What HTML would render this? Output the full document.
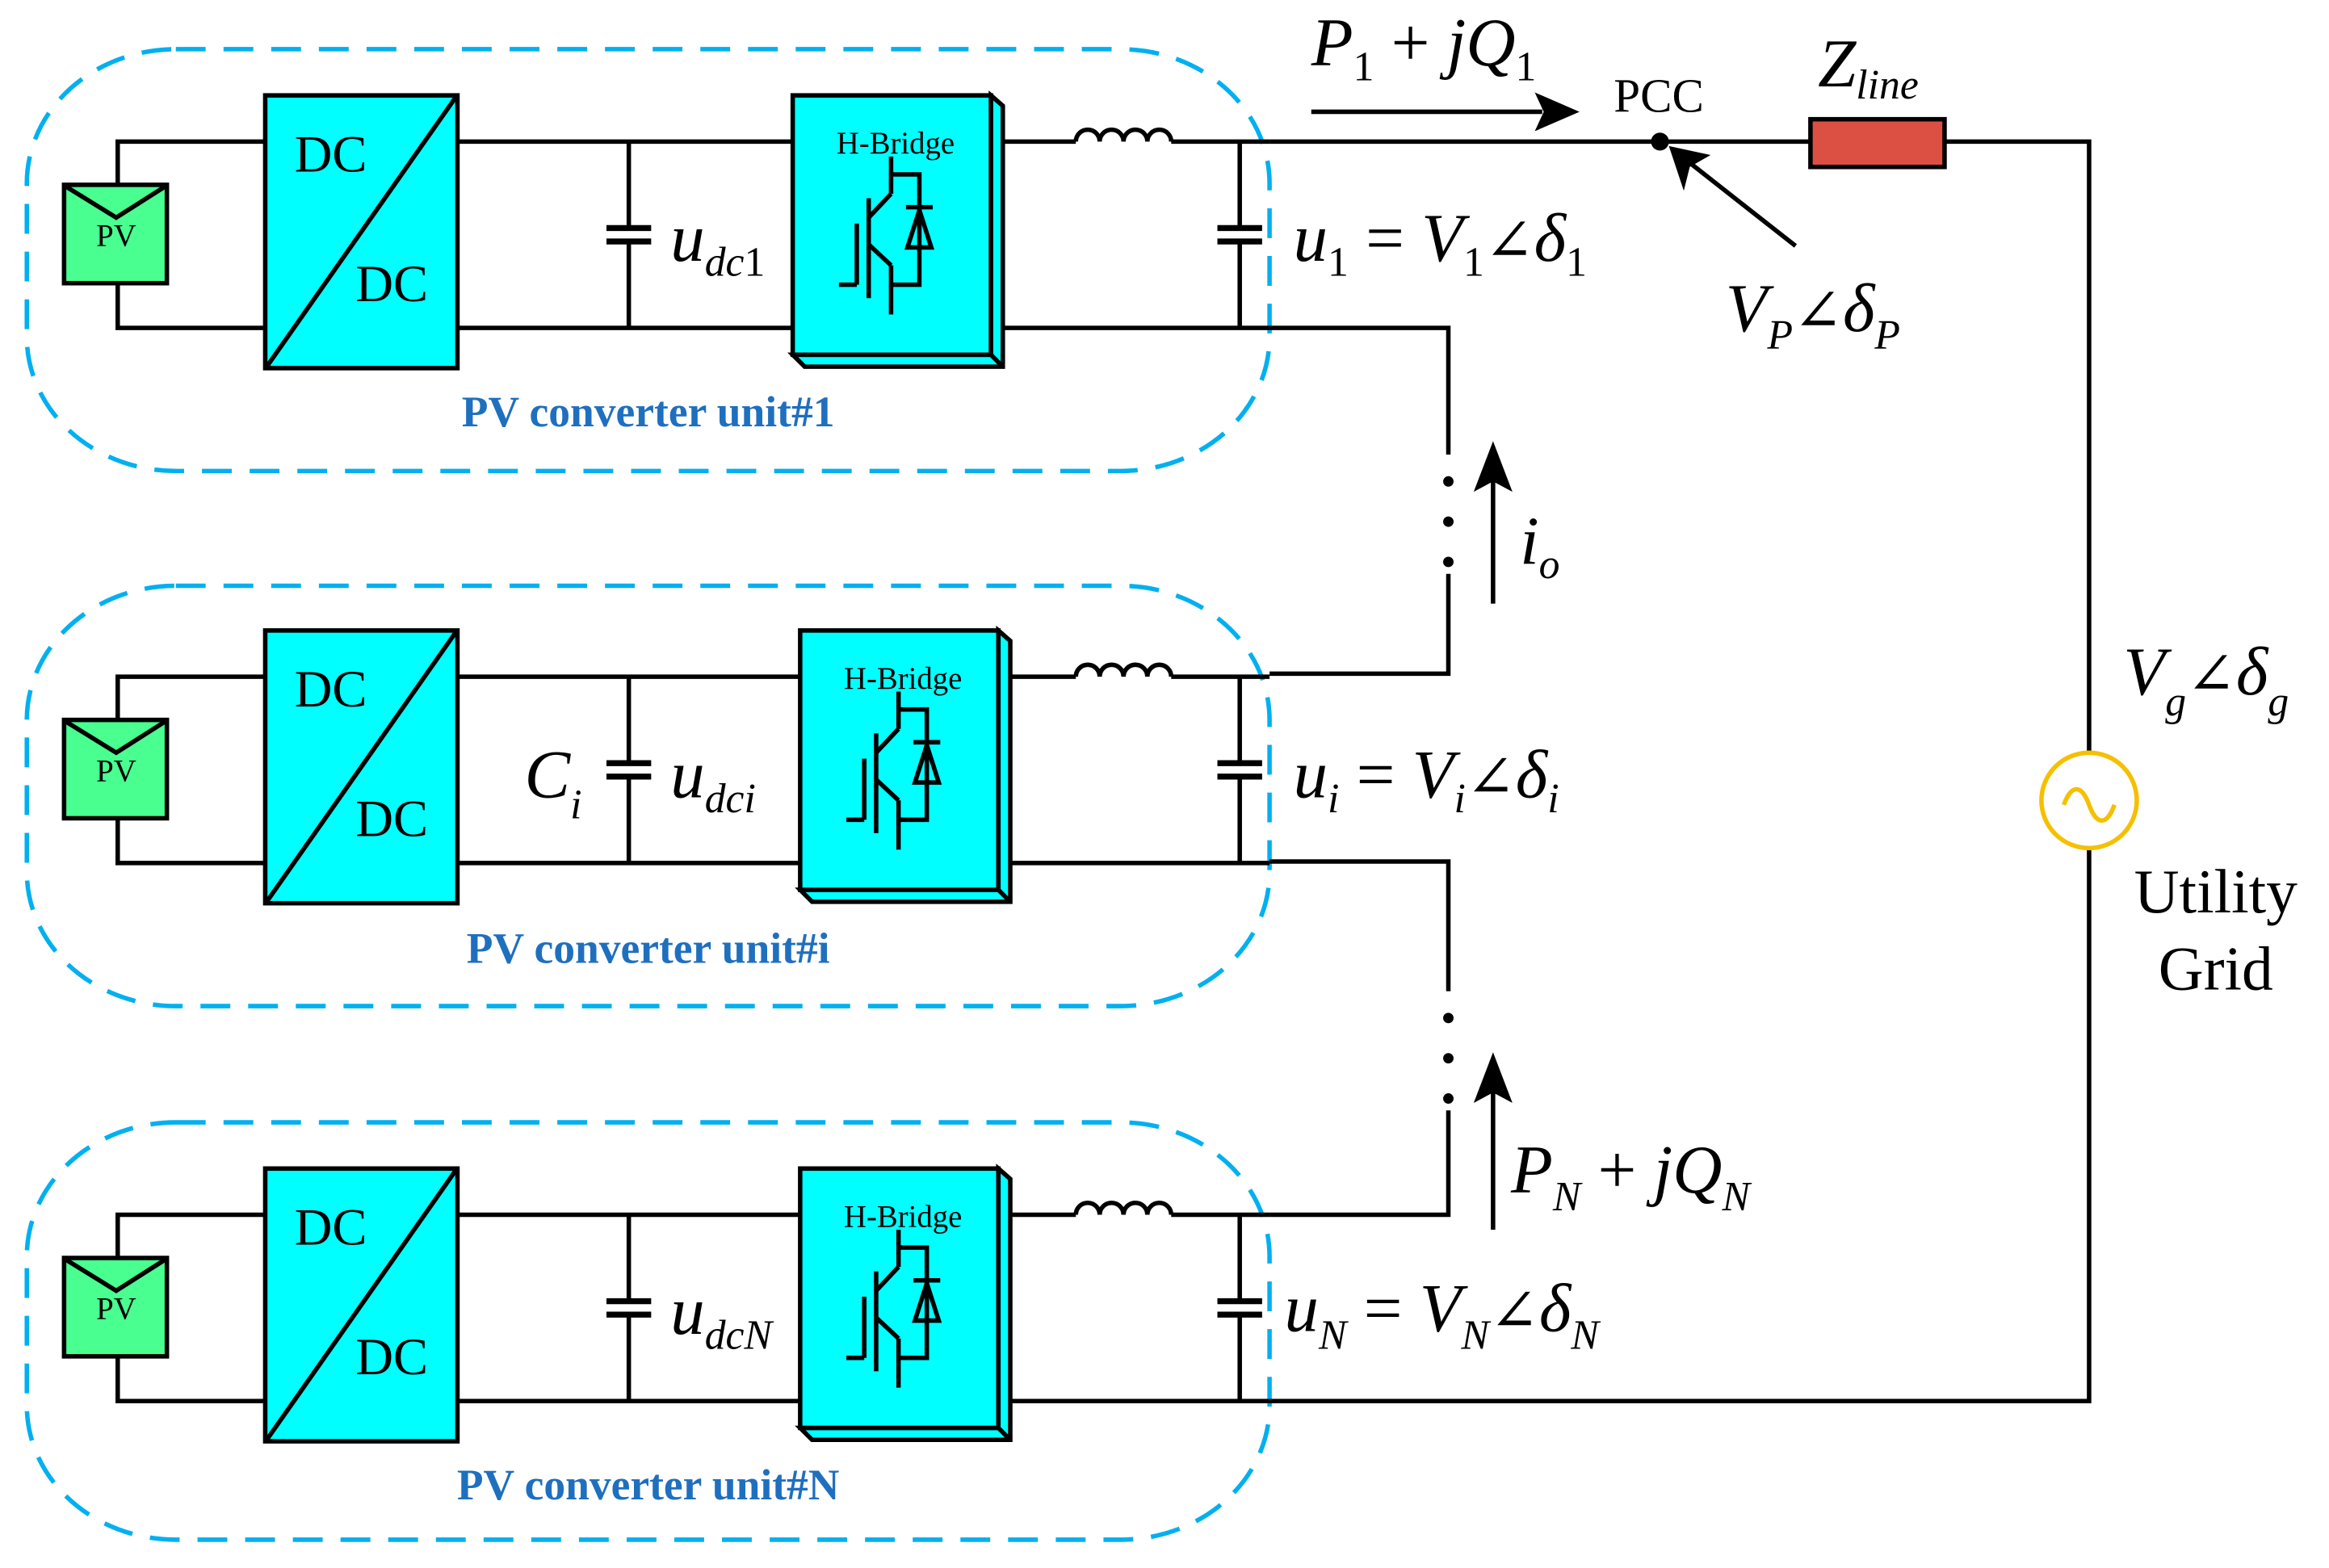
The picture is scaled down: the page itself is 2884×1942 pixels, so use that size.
<!DOCTYPE html>
<html><head><meta charset="utf-8"><style>
html,body{margin:0;padding:0;background:#fff;}
svg{display:block;}
text{font-family:"Liberation Serif",serif;}
.m{font-style:italic;}
.a{font-family:"DejaVu Serif",serif;font-style:normal;font-size:40px;}
</style></head><body>
<svg width="2884" height="1942" viewBox="0 0 1563 1052" preserveAspectRatio="none" xmlns="http://www.w3.org/2000/svg">
<defs>
<g id="unit" stroke="#000" stroke-width="3" fill="none">
  <polyline points="178,95 79,95 79,124"/>
  <polyline points="178,220 79,220 79,190"/>
  <rect x="43" y="124" width="69" height="66" fill="#48ff90"/>
  <polyline points="44,125 78,146 111,125"/>
  <text x="78" y="165" font-size="21" text-anchor="middle" fill="#000" stroke="none">PV</text>
  <rect x="178" y="64" width="129" height="183" fill="#00ffff"/>
  <line x1="179" y1="246" x2="306" y2="65"/>
  <text x="222" y="115" font-size="35" text-anchor="middle" fill="#000" stroke="none">DC</text>
  <text x="263" y="202" font-size="35" text-anchor="middle" fill="#000" stroke="none">DC</text>
  <line x1="307" y1="95" x2="540" y2="95"/>
  <line x1="307" y1="220" x2="540" y2="220"/>
  <line x1="422" y1="95" x2="422" y2="153"/>
  <line x1="422" y1="162" x2="422" y2="220"/>
  <line x1="407" y1="153" x2="437" y2="153" stroke-width="4"/>
  <line x1="407" y1="162" x2="437" y2="162" stroke-width="4"/>
  <line x1="670" y1="95" x2="722" y2="95"/>
  <path d="M722,95 a8,8 0 0 1 16,0 a8,8 0 0 1 16,0 a8,8 0 0 1 16,0 a8,8 0 0 1 16,0"/>
  <line x1="786" y1="95" x2="852" y2="95"/>
  <line x1="670" y1="220" x2="852" y2="220"/>
  <line x1="832" y1="95" x2="832" y2="153"/>
  <line x1="832" y1="162" x2="832" y2="220"/>
  <line x1="817" y1="153" x2="847" y2="153" stroke-width="4"/>
  <line x1="817" y1="162" x2="847" y2="162" stroke-width="4"/>
</g>
<g id="hb" stroke="#000" stroke-width="3" fill="#00ffff">
  <polygon points="665,64 673,71 673,246 540,246 532,238 665,238"/>
  <line x1="665" y1="238" x2="673" y2="246"/>
  <rect x="532" y="64" width="133" height="174"/>
  <text x="601" y="103" font-size="21" text-anchor="middle" fill="#000" stroke="none">H-Bridge</text>
  <g fill="none">
    <line x1="598" y1="105" x2="598" y2="130"/>
    <polyline points="598,117 617,117 617,191 598,191"/>
    <line x1="598" y1="178" x2="598" y2="211"/>
    <line x1="583" y1="133" x2="583" y2="200"/>
    <line x1="575" y1="150" x2="575" y2="191"/>
    <line x1="563" y1="191" x2="575" y2="191"/>
    <line x1="583" y1="146" x2="598" y2="130"/>
    <line x1="583" y1="164" x2="598" y2="178"/>
    <line x1="608" y1="139" x2="626" y2="139"/>
    <polygon points="617,141 609,166 625,166"/>
  </g>
</g>
</defs>

<g stroke="#00b0f0" stroke-width="3" fill="none" stroke-dasharray="20,12">
  <rect x="18" y="33" width="834" height="283" rx="100" ry="90"/>
  <rect x="18" y="393" width="834" height="282" rx="100" ry="90"/>
  <rect x="18" y="753" width="834" height="280" rx="100" ry="90"/>
</g>

<use href="#unit"/>
<use href="#unit" transform="translate(0,359)"/>
<use href="#unit" transform="translate(0,720)"/>
<use href="#hb" transform="translate(0,0)"/>
<use href="#hb" transform="translate(5,359)"/>
<use href="#hb" transform="translate(5,720)"/>

<g fill="#1f6fbf" font-weight="bold" font-size="29" text-anchor="middle">
  <text x="435" y="286">PV converter unit#1</text>
  <text x="435" y="646">PV converter unit#i</text>
  <text x="435" y="1006">PV converter unit#N</text>
</g>

<g stroke="#000" stroke-width="3" fill="none">
  <line x1="852" y1="95" x2="1215" y2="95"/>
  <polyline points="1305,95 1402,95 1402,505"/>
  <polyline points="1402,570 1402,940 852,940"/>
  <polyline points="852,220 972,220 972,305"/>
  <polyline points="972,385 972,452 852,452"/>
  <polyline points="852,578 972,578 972,665"/>
  <polyline points="972,745 972,815 852,815"/>
  <line x1="880" y1="75" x2="1035" y2="75"/>
  <line x1="1002" y1="405" x2="1002" y2="320"/>
  <line x1="1002" y1="825" x2="1002" y2="730"/>
  <line x1="1205" y1="165" x2="1135" y2="110"/>
</g>
<rect x="1215" y="80" width="90" height="32" fill="#dc5044" stroke="#000" stroke-width="3"/>
<circle cx="1402" cy="537" r="32" fill="none" stroke="#f5c000" stroke-width="3"/>
<path d="M1385,540 c5,-14 12,-14 17,0 c5,14 12,14 17,0" fill="none" stroke="#f5c000" stroke-width="3"/>
<g fill="#000">
  <circle cx="1114" cy="95" r="6"/>
  <polygon points="1060,75 1030,62 1036,75 1030,88"/>
  <polygon points="1002,296 989,330 1002,323 1015,330"/>
  <polygon points="1002,706 989,740 1002,733 1015,740"/>
  <polygon points="1120,98 1130,128 1134,112 1148,104"/>
  <circle cx="972" cy="323" r="3.5"/><circle cx="972" cy="350" r="3.5"/><circle cx="972" cy="377" r="3.5"/>
  <circle cx="972" cy="683" r="3.5"/><circle cx="972" cy="710" r="3.5"/><circle cx="972" cy="737" r="3.5"/>
</g>

<g fill="#000">
  <text x="1083" y="75" font-size="32">PCC</text>
  <text x="1487" y="612" font-size="42" text-anchor="middle">Utility</text>
  <text x="1487" y="664" font-size="42" text-anchor="middle">Grid</text>

  <text x="880" y="44" font-size="46" class="m">P<tspan font-size="28" font-style="normal" dy="10">1</tspan><tspan dy="-10" font-style="normal"> + </tspan>jQ<tspan font-size="28" font-style="normal" dy="10">1</tspan></text>
  <text x="1220" y="58" font-size="46" class="m">Z<tspan font-size="28" dy="8">line</tspan></text>
  <text x="1158" y="222" font-size="46" class="m">V<tspan font-size="28" dy="12">P</tspan><tspan dy="-12" class="a">∠</tspan>δ<tspan font-size="28" dy="12">P</tspan></text>
  <text x="1425" y="466" font-size="46" class="m">V<tspan font-size="28" dy="14">g</tspan><tspan dy="-14" class="a">∠</tspan>δ<tspan font-size="28" dy="14">g</tspan></text>

  <text x="450" y="175" font-size="46" class="m">u<tspan font-size="28" dy="10">dc</tspan><tspan font-size="28" font-style="normal">1</tspan></text>
  <text x="450" y="535" font-size="46" class="m">u<tspan font-size="28" dy="10">dci</tspan></text>
  <text x="450" y="895" font-size="46" class="m">u<tspan font-size="28" dy="10">dcN</tspan></text>
  <text x="352" y="535" font-size="46" class="m">C<tspan font-size="28" dy="14">i</tspan></text>

  <text x="868" y="175" font-size="46" class="m">u<tspan font-size="28" font-style="normal" dy="10">1</tspan><tspan dy="-10" font-style="normal"> = </tspan>V<tspan font-size="28" font-style="normal" dy="10">1</tspan><tspan dy="-10" class="a">∠</tspan>δ<tspan font-size="28" font-style="normal" dy="10">1</tspan></text>
  <text x="868" y="535" font-size="46" class="m">u<tspan font-size="28" dy="10">i</tspan><tspan dy="-10" font-style="normal"> = </tspan>V<tspan font-size="28" dy="10">i</tspan><tspan dy="-10" class="a">∠</tspan>δ<tspan font-size="28" dy="10">i</tspan></text>
  <text x="862" y="893" font-size="46" class="m">u<tspan font-size="28" dy="12">N</tspan><tspan dy="-12" font-style="normal"> = </tspan>V<tspan font-size="28" dy="12">N</tspan><tspan dy="-12" class="a">∠</tspan>δ<tspan font-size="28" dy="12">N</tspan></text>

  <text x="1020" y="378" font-size="46" class="m">i<tspan font-size="28" dy="10">o</tspan></text>
  <text x="1014" y="800" font-size="46" class="m">P<tspan font-size="28" dy="12">N</tspan><tspan dy="-12" font-style="normal"> + </tspan>jQ<tspan font-size="28" dy="12">N</tspan></text>
</g>
</svg>
</body></html>
